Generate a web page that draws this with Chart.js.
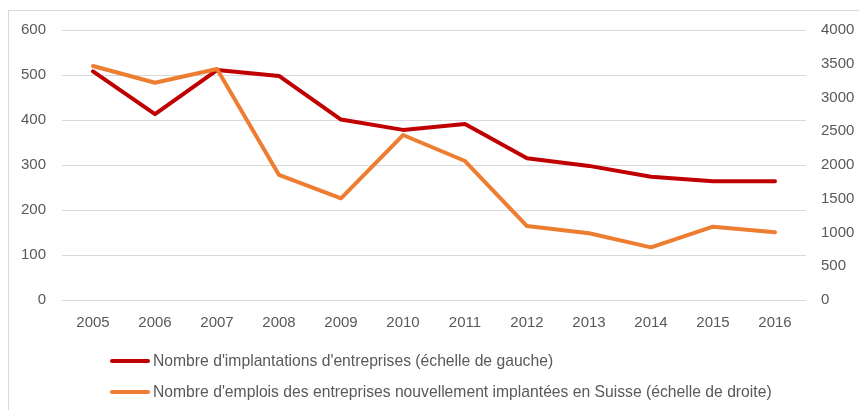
<!DOCTYPE html>
<html>
<head>
<meta charset="utf-8">
<script src="https://cdn.jsdelivr.net/npm/chart.js@4/dist/chart.umd.min.js"></script>
<style>
  html, body { margin: 0; padding: 0; background: #fff; }
  #wrap { position: relative; width: 859px; height: 410px; overflow: hidden; }
  #frame { position: absolute; left: 8px; top: 10px; width: 900px; height: 450px; border: 1px solid #d9d9d9; box-sizing: border-box; }
  #cv { position: absolute; left: 0; top: 0; }
  #legend { position: absolute; left: 110px; top: 349px; font-family: "Liberation Sans", Arial, sans-serif; font-size: 15.7px; color: #595959; }
  .item { display: flex; align-items: center; height: 24px; margin-bottom: 7px; white-space: nowrap; }
  .swatch { width: 40px; height: 4px; border-radius: 2px; margin-right: 3px; }
</style>
</head>
<body>
<div id="wrap">
  <div id="frame"></div>
  <canvas id="cv" width="859" height="410"></canvas>
  <div id="legend"></div>
</div>
<script>
const categories = ["2005","2006","2007","2008","2009","2010","2011","2012","2013","2014","2015","2016"];
const implantations = [508, 413, 511, 498, 401, 378, 391, 315, 298, 274, 264, 264];
const emplois = [3467, 3219, 3422, 1852, 1506, 2444, 2059, 1096, 988, 780, 1086, 1002];
const seriesNames = [
  "Nombre d'implantations d'entreprises (échelle de gauche)",
  "Nombre d'emplois des entreprises nouvellement implantées en Suisse (échelle de droite)"
];
const seriesColors = ["#c00000", "#ed7d31"];

const font = { family: "'Liberation Sans', Arial, sans-serif", size: 15 };
const textColor = "#595959";

new Chart(document.getElementById('cv'), {
  type: 'line',
  data: {
    labels: categories,
    datasets: [
      { label: seriesNames[0], data: implantations, yAxisID: 'yL', borderColor: seriesColors[0], backgroundColor: seriesColors[0], borderWidth: 4, pointRadius: 0, tension: 0, borderJoinStyle: 'round', borderCapStyle: 'round', order: 1 },
      { label: seriesNames[1], data: emplois, yAxisID: 'yR', borderColor: seriesColors[1], backgroundColor: seriesColors[1], borderWidth: 4, pointRadius: 0, tension: 0, borderJoinStyle: 'round', borderCapStyle: 'round', order: 0 }
    ]
  },
  options: {
    responsive: false,
    animation: false,
    layout: { padding: { top: 30, left: 0, right: 0, bottom: 0 } },
    plugins: { legend: { display: false }, tooltip: { enabled: false } },
    scales: {
      x: {
        offset: true,
        grid: { display: false, drawTicks: false },
        border: { display: false },
        ticks: { color: textColor, font: font, padding: 14, maxRotation: 0, autoSkip: false },
        afterFit: s => { s.height = 110; }
      },
      yL: {
        position: 'left', min: 0, max: 600,
        grid: { color: '#d9d9d9', lineWidth: 1, drawTicks: false },
        border: { display: false },
        ticks: { stepSize: 100, color: textColor, font: font, padding: 16, callback: v => String(v) },
        afterFit: s => { s.width = 62; }
      },
      yR: {
        position: 'right', min: 0, max: 4000,
        grid: { display: false, drawTicks: false },
        border: { display: false },
        ticks: { stepSize: 500, color: textColor, font: font, padding: 15, callback: v => String(v) },
        afterFit: s => { s.width = 53; }
      }
    }
  }
});

const lg = document.getElementById('legend');
seriesNames.forEach((n, i) => {
  const d = document.createElement('div'); d.className = 'item';
  const sw = document.createElement('span'); sw.className = 'swatch'; sw.style.background = seriesColors[i];
  const t = document.createElement('span'); t.textContent = n;
  d.appendChild(sw); d.appendChild(t); lg.appendChild(d);
});
</script>
</body>
</html>
